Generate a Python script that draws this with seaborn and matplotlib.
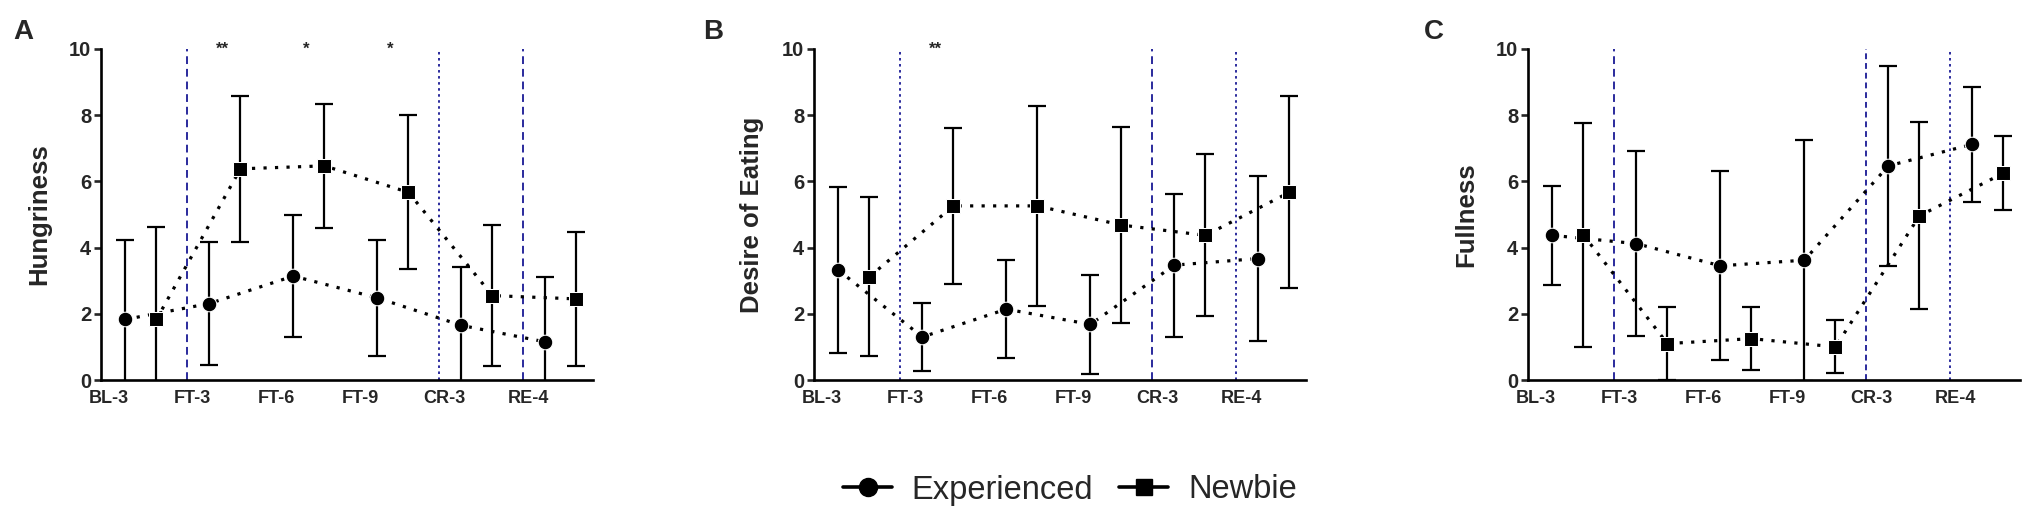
import matplotlib.pyplot as plt
import matplotlib.lines as mlines
from matplotlib import font_manager
import numpy as np
import pandas as pd
import seaborn as sns

# %%
phases = ["BL-3", "FT-3", "FT-6", "FT-9", "CR-3", "RE-4"]
groups = ["Experienced", "Newbie"]

hung_exp = [1.83, 2.31, 3.14, 2.48, 1.65, 1.15]
hung_exp_sd = [2.39, 1.85, 1.83, 1.76, 1.76, 1.95]
hung_new = [1.83, 6.38, 6.47, 5.67, 2.55, 2.45]
hung_new_sd = [2.78, 2.21, 1.87, 2.33, 2.12, 2.03]

desire_exp = [3.32, 1.30, 2.14, 1.68, 3.47, 3.67]
desire_exp_sd = [2.50, 1.04, 1.48, 1.50, 2.16, 2.48]
desire_new = [3.12, 5.26, 5.26, 4.68, 4.37, 5.67]
desire_new_sd = [2.41, 2.36, 3.02, 2.95, 2.45, 2.90]

full_exp = [4.37, 4.12, 3.45, 3.62, 6.47, 7.12]
full_exp_sd = [1.50, 2.80, 2.85, 3.64, 3.02, 1.73]
full_new = [4.38, 1.10, 1.25, 1.00, 4.96, 6.25]
full_new_sd = [3.38, 1.10, 0.95, 0.80, 2.83, 1.12]

stars_a = {"FT-3": "**", "FT-6": "*", "FT-9": "*"}
stars_b = {"FT-3": "**"}
stars_c = {}

# phase boundaries (after BL-3, after FT-9, after CR-3) and their line style
dash = (0, (4, 2.5))
dot = (0, (1.3, 1.8))
bounds_a = [("BL-3", dash), ("FT-9", dot), ("CR-3", dash)]
bounds_b = [("BL-3", dot), ("FT-9", dash), ("CR-3", dot)]
bounds_c = [("BL-3", dash), ("FT-9", (0, (3, 2))), ("CR-3", dot)]

panels = [
    ("A", "Hungriness", hung_exp, hung_exp_sd, hung_new, hung_new_sd, stars_a, bounds_a),
    ("B", "Desire of Eating", desire_exp, desire_exp_sd, desire_new, desire_new_sd, stars_b, bounds_b),
    ("C", "Fullness", full_exp, full_exp_sd, full_new, full_new_sd, stars_c, bounds_c),
]

# %%
sns.set_style("ticks")
plt.rcParams["font.family"] = ["Liberation Sans", "DejaVu Sans"]

W, H = 2033, 517
fig = plt.figure(figsize=(W / 100, H / 100), dpi=100)

spines_x = [101, 814, 1528]
letters_x = [13, 703, 1424]
cat_px = 84
x_lo, x_hi = -0.09, 5.77
top, bottom = 49, 380
off_e, off_n = 0.2, 0.57

for (letter, ylab, m_e, s_e, m_n, s_n, stars, bounds), l, lx in zip(panels, spines_x, letters_x):
    width = (x_hi - x_lo) * cat_px
    ax = fig.add_axes([l / W, 1 - bottom / H, width / W, (bottom - top) / H])
    pos = np.arange(len(phases))
    df = pd.DataFrame(
        {
            "x": np.concatenate([pos + off_e, pos + off_n]),
            "value": m_e + m_n,
            "sd": s_e + s_n,
            "group": np.repeat(groups, len(phases)),
        }
    )

    for xb, ls in bounds:
        xv = phases.index(xb) + 0.93
        ax.vlines(xv, 0, 10, colors="#2a2a9c", linestyles=[ls], linewidth=1.4, zorder=1)

    ax.errorbar(
        df.x, df.value, yerr=df.sd, fmt="none", ecolor="black",
        elinewidth=1.6, capsize=6.5, capthick=1.6, zorder=2,
    )
    sns.lineplot(
        data=df, x="x", y="value", style="group",
        markers={"Experienced": "o", "Newbie": "s"},
        dashes={"Experienced": (1, 2.6), "Newbie": (1, 2.6)},
        color="black", linewidth=2.3, markersize=10.5, legend=False, ax=ax, zorder=3,
    )

    for ph, s in stars.items():
        ax.text(phases.index(ph) + 0.35, 10, s, ha="center", va="center",
                fontsize=12, fontweight="bold", clip_on=False)

    ax.set_xlim(x_lo, x_hi)
    ax.set_ylim(0, 10)
    ax.set_yticks(range(0, 11, 2))
    ax.set_xticks(pos)
    ax.set_xticklabels(phases)
    ax.set_xlabel("")
    ax.set_ylabel(ylab, fontsize=18.5, fontweight="bold")
    ax.yaxis.set_label_coords(-50 / width, 0.5)
    sns.despine(ax=ax)
    for sp in ["left", "bottom"]:
        ax.spines[sp].set_linewidth(1.9)
        ax.spines[sp].set_color("black")
    ax.tick_params(axis="y", length=5, width=1.9, labelsize=14.5, pad=2)
    ax.tick_params(axis="x", length=0, labelsize=13, pad=7)
    for t in ax.get_xticklabels() + ax.get_yticklabels():
        t.set_fontweight("bold")
    fig.text(lx / W, 1 - 32 / H, letter, fontsize=20, fontweight="bold",
             ha="left", va="center")

# legend text is a condensed face in the original; fall back to regular width
try:
    font_manager.findfont("Liberation Sans Narrow", fallback_to_default=False)
    leg_prop = {"family": "Liberation Sans Narrow", "size": 28}
except ValueError:
    leg_prop = {"family": "Liberation Sans", "size": 23.5}

handles = [
    mlines.Line2D([], [], color="black", marker="o", markersize=13, linewidth=2.6),
    mlines.Line2D([], [], color="black", marker="s", markersize=12, linewidth=2.6),
]
fig.legend(
    handles, groups, loc="center", bbox_to_anchor=(1070 / W, 1 - 490 / H), ncol=2,
    frameon=False, handlelength=1.5, handletextpad=0.6, columnspacing=0.8,
    prop=leg_prop,
)

fig.savefig("out.png", dpi=100)
